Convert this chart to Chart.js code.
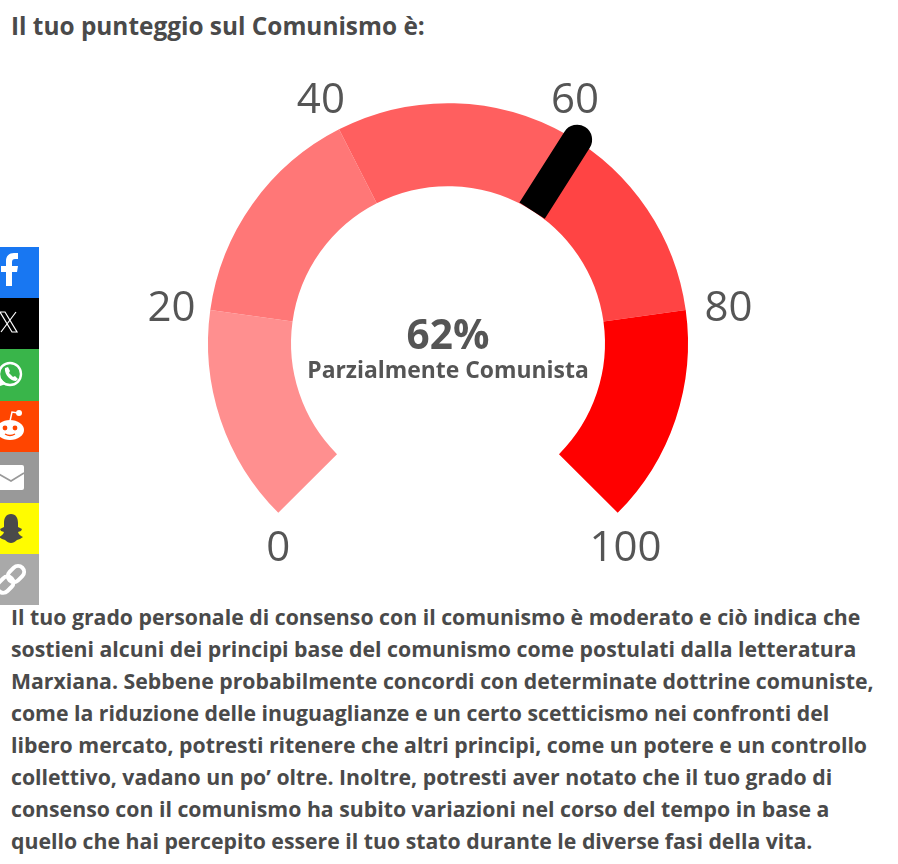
<!DOCTYPE html>
<html lang="it">
<head>
<meta charset="utf-8">
<title>Punteggio Comunismo</title>
<script src="https://cdn.jsdelivr.net/npm/chart.js@4"></script>
<style>
  html, body { margin: 0; padding: 0; background: #fff; overflow: hidden; }
  body { width: 898px; height: 864px; position: relative; font-family: "Open Sans", sans-serif; color: #4a4a4a; }
  #gauge { position: absolute; left: 0; top: 0; }
  h2 { position: absolute; left: 11px; top: 10px; margin: 0; font-size: 24.4px; line-height: 32px; font-weight: 700; white-space: nowrap; }
  p { position: absolute; left: 11px; top: 601px; margin: 0; font-size: 21.25px; line-height: 32px; font-weight: 700; white-space: nowrap; }
  .share { position: absolute; left: 0; top: 247px; width: 39px; }
  .share div { height: 51.2px; overflow: hidden; }
  .share svg { display: block; width: 39px; height: 51px; }
</style>
</head>
<body>
<h2>Il tuo punteggio sul Comunismo è:</h2>
<canvas id="gauge" width="898" height="600"></canvas>
<p>Il tuo grado personale di consenso con il comunismo è moderato e ciò indica che<br>
sostieni alcuni dei principi base del comunismo come postulati dalla letteratura<br>
Marxiana. Sebbene probabilmente concordi con determinate dottrine comuniste,<br>
come la riduzione delle inuguaglianze e un certo scetticismo nei confronti del<br>
libero mercato, potresti ritenere che altri principi, come un potere e un controllo<br>
collettivo, vadano un po’ oltre. Inoltre, potresti aver notato che il tuo grado di<br>
consenso con il comunismo ha subito variazioni nel corso del tempo in base a<br>
quello che hai percepito essere il tuo stato durante le diverse fasi della vita.</p>

<div class="share">
  <div style="background:#1877f2"><svg viewBox="0 0 39 51"><path fill="#fff" d="M6 39V25H1v-6h5v-5c0-5 3-8 8-8h4v6h-3c-2 0-3 1-3 3v4h6l-1 6h-5v14z"/></svg></div>
  <div style="background:#000"><svg viewBox="0 0 39 51"><path fill="none" stroke="#fff" stroke-width="1.2" d="M0 14h5l12 20h-5zM16 14L1 34"/></svg></div>
  <div style="background:#39b54a"><svg viewBox="0 0 39 51"><circle cx="10" cy="25" r="11" fill="none" stroke="#fff" stroke-width="2.4"/><path fill="#fff" d="M-3 38l3-9 6 6zM5 19l3-1 2 4-1 2 4 4 2-1 3 3-2 2c-6 0-12-7-11-13z"/></svg></div>
  <div style="background:#ff4500"><svg viewBox="0 0 39 51"><ellipse cx="10" cy="29" rx="14" ry="10" fill="#fff"/><circle cx="19" cy="12" r="3" fill="#fff"/><path fill="none" stroke="#fff" stroke-width="1.5" d="M10 20l2-9 6 1"/><circle cx="5" cy="27" r="2.4" fill="#ff4500"/><circle cx="15" cy="27" r="2.4" fill="#ff4500"/><path fill="none" stroke="#ff4500" stroke-width="1.4" d="M5 33q5 3 10 0"/></svg></div>
  <div style="background:#999"><svg viewBox="0 0 39 51"><rect x="-3" y="13" width="27" height="25" rx="2" fill="#fff"/><path fill="none" stroke="#999" stroke-width="1.6" d="M-3 21l14 8 13-8"/></svg></div>
  <div style="background:#fffc00"><svg viewBox="0 0 39 51"><path fill="#4a4a4a" d="M11 11c5 0 7 4 7 9v4l4 2-1 2-3 1c1 3 3 4 5 5l-3 2-3 1c-2 2-4 3-6 3s-4-1-6-3l-3-1-3-2c2-1 4-2 5-5l-3-1-1-2 4-2v-4c0-5 2-9 7-9z"/></svg></div>
  <div style="background:#a9a9a9"><svg viewBox="0 0 39 51"><g fill="none" stroke="#fff" stroke-width="4" transform="rotate(-45 11 25)"><rect x="-6" y="19" width="18" height="12" rx="6"/><rect x="9" y="19" width="18" height="12" rx="6"/></g></svg></div>
</div>

<script>
const segmentValues = [19.6, 20.4, 21.1, 19.3, 19.6];
const segmentColors = ["#ff8f8f", "#ff7777", "#ff5f5f", "#ff4444", "#ff0000"];
const tickLabels = ["0", "20", "40", "60", "80", "100"];
const score = 62;
const scoreText = "62%";
const scoreLabel = "Parzialmente Comunista";

const START_ANGLE = -135;
const SWEEP = 270;
const textColor = "#555";

// angolo (radianti, 0 = a destra) per un valore 0-100
function valueAngle(v) {
  return (START_ANGLE + v / 100 * SWEEP - 90) * Math.PI / 180;
}

// numeri attorno al quadrante + lancetta + testo centrale
const gaugeExtras = {
  id: "gaugeExtras",
  afterDatasetsDraw(chart) {
    const ctx = chart.ctx;
    const arc = chart.getDatasetMeta(0).data[0];
    const cx = arc.x, cy = arc.y, outer = arc.outerRadius, inner = arc.innerRadius;

    // lancetta: base piatta sul bordo interno, punta arrotondata
    const a = valueAngle(score);
    const halfW = 15;
    const nx = -Math.sin(a), ny = Math.cos(a);
    const bx = cx + Math.cos(a) * inner, by = cy + Math.sin(a) * inner;
    const tx = cx + Math.cos(a) * (outer + 1), ty = cy + Math.sin(a) * (outer + 1);
    ctx.save();
    ctx.fillStyle = "#000";
    ctx.beginPath();
    ctx.moveTo(bx + nx * halfW, by + ny * halfW);
    ctx.lineTo(tx + nx * halfW, ty + ny * halfW);
    ctx.arc(tx, ty, halfW, a + Math.PI / 2, a - Math.PI / 2, true);
    ctx.lineTo(bx - nx * halfW, by - ny * halfW);
    ctx.closePath();
    ctx.fill();

    // etichette
    ctx.fillStyle = textColor;
    ctx.textAlign = "center";
    ctx.textBaseline = "middle";
    ctx.font = '42px "Open Sans"';
    tickLabels.forEach((t, i) => {
      const ang = valueAngle(Number(t));
      // gli estremi stanno piu vicini all'arco
      const rx = [240, 280, 280, 280, 284, 251][i];
      const ry = [291.5, 221, 272, 272, 221, 291.5][i];
      ctx.fillText(t, cx + Math.cos(ang) * rx, cy + Math.sin(ang) * ry);
    });

    ctx.font = 'bold 40.5px "Open Sans"';
    ctx.fillText(scoreText, cx, 337);
    ctx.font = 'bold 22.9px "Open Sans"';
    ctx.fillText(scoreLabel, cx, 371);
    ctx.restore();
  }
};

new Chart(document.getElementById("gauge"), {
  type: "doughnut",
  data: {
    labels: tickLabels.slice(0, 5),
    datasets: [{ data: segmentValues, backgroundColor: segmentColors, borderWidth: 0 }]
  },
  options: {
    responsive: false,
    animation: false,
    events: [],
    rotation: START_ANGLE,
    circumference: SWEEP,
    cutout: "65.4%",
    layout: { padding: { left: 208, right: 210, top: 103, bottom: 87 } },
    plugins: { legend: { display: false }, tooltip: { enabled: false } }
  },
  plugins: [gaugeExtras]
});
</script>
</body>
</html>
